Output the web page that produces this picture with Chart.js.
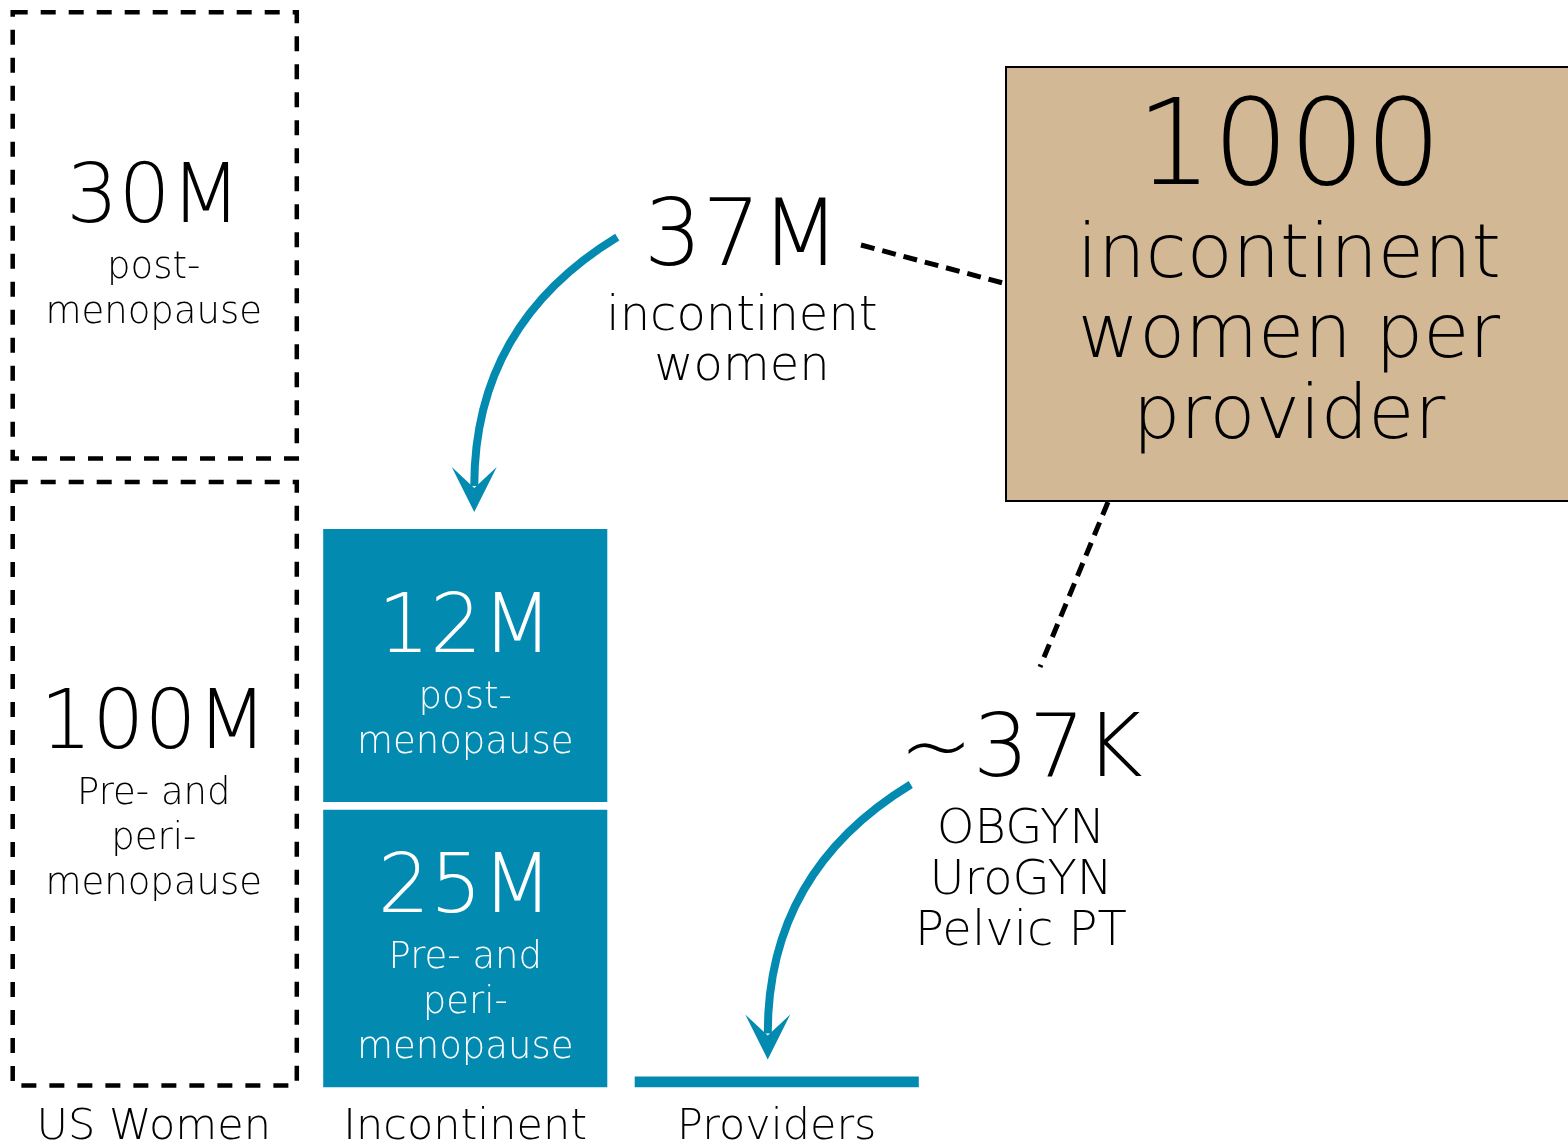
<!DOCTYPE html>
<html><head><meta charset="utf-8">
<script src="https://cdn.jsdelivr.net/npm/chart.js@4.4.1/dist/chart.umd.min.js"></script>
<style>
html,body{margin:0;padding:0;background:#fff;overflow:hidden;}
#wrap{position:relative;width:1568px;height:1144px;overflow:hidden;background:#fff;}
canvas{display:block;position:absolute;left:-2px;top:0;}
</style></head><body>
<div id="wrap"><canvas id="c" width="1570" height="1169"></canvas></div>
<script>
// ---- data ----
const categories = ['US Women', 'Incontinent', 'Providers'];
// figures printed on the blocks
const preLabels = ['100M', '25M', ''];
const postLabels = ['30M', '12M', ''];
const preSubLabels = [['Pre- and', 'peri-', 'menopause'], ['Pre- and', 'peri-', 'menopause'], []];
const postSubLabels = [['post-', 'menopause'], ['post-', 'menopause'], []];
// block heights as drawn in the graphic (illustrative, not to scale; 100 = the 100M block)
const preHeights = [100, 45.7, 1.8];
const gapHeights = [3.2, 1.3, 0];
const postHeights = [74.1, 44.9, 0];
const yMax = 179;
// annotation texts
const incontinentTotal = ['37M', 'incontinent', 'women'];
const ratioText = ['1000', 'incontinent', 'women per', 'provider'];
const providerTotal = ['~37K', 'OBGYN', 'UroGYN', 'Pelvic PT'];

// ---- styles ----
const TEAL = '#028AB0';
const TAN = '#D2B894';
const CLEAR = 'rgba(0,0,0,0)';
const FAM = "'DejaVu Sans', sans-serif";
const W = 200;
const f = (s) => `${W} ${s}px ${FAM}`;
const DX = 2; // canvas is shifted 2px left

function drawLines(ctx, lines, cx, baselines, sizes) {
  lines.forEach((t, k) => { ctx.font = f(sizes[k]); ctx.fillText(t, cx + DX, baselines[k]); });
}

function arrow(ctx, tip) {
  const sx = tip.x + 143, sy = tip.y - 275;
  ctx.save();
  ctx.strokeStyle = TEAL; ctx.fillStyle = TEAL; ctx.lineWidth = 8; ctx.lineCap = 'butt';
  ctx.beginPath();
  ctx.moveTo(sx, sy);
  ctx.quadraticCurveTo(tip.x, tip.y - 188, tip.x, tip.y - 26);
  ctx.stroke();
  ctx.beginPath();
  ctx.moveTo(tip.x, tip.y);
  ctx.lineTo(tip.x - 22.5, tip.y - 45);
  ctx.lineTo(tip.x, tip.y - 24);
  ctx.lineTo(tip.x + 22.5, tip.y - 45);
  ctx.closePath();
  ctx.fill();
  ctx.restore();
}

const annot = {
  id: 'annot',
  afterDatasetsDraw(chart) {
    const ctx = chart.ctx;
    const metaPre = chart.getDatasetMeta(0), metaPost = chart.getDatasetMeta(2);
    // dashed outlines of the US Women blocks
    ctx.save();
    ctx.strokeStyle = '#000'; ctx.lineWidth = 4.5; ctx.setLineDash([15, 13]);
    [metaPre.data[0], metaPost.data[0]].forEach(el => {
      const p = el.getProps(['x', 'y', 'base', 'width'], true);
      const l = p.x - p.width / 2 + 1, r = p.x + p.width / 2 + 1;
      const t = Math.min(p.y, p.base) + 2, b = Math.max(p.y, p.base) - 2;
      ctx.strokeRect(l, t, r - l, b - t);
    });
    ctx.restore();

    // block labels
    ctx.save();
    ctx.textAlign = 'center'; ctx.textBaseline = 'alphabetic';
    const bigSize = 82, cap = 0.729 * bigSize;
    [[metaPre, preLabels, preSubLabels], [metaPost, postLabels, postSubLabels]].forEach(([meta, big, subs]) => {
      meta.data.forEach((el, i) => {
        if (!big[i]) return;
        const p = el.getProps(['x', 'y', 'base'], true);
        const mid = (p.y + p.base) / 2 + 7;
        const n = subs[i].length;
        const blockH = cap + 56 + 45 * (n - 1);
        const top = mid - blockH / 2;
        ctx.fillStyle = i === 0 ? '#000' : '#fff';
        ctx.font = f(bigSize);
        ctx.fillText(big[i], p.x, top + cap);
        ctx.font = f(37);
        subs[i].forEach((t, k) => ctx.fillText(t, p.x, top + cap + 56 + 45 * k));
      });
    });
    ctx.restore();

    // ratio box
    ctx.save();
    ctx.fillStyle = TAN; ctx.strokeStyle = '#000'; ctx.lineWidth = 2;
    ctx.fillRect(1006 + DX, 67, 600, 434);
    ctx.strokeRect(1006 + DX, 67, 600, 434);
    ctx.fillStyle = '#000'; ctx.textAlign = 'center';
    drawLines(ctx, ratioText, 1289, [184, 277, 357, 438], [120, 75, 75, 75]);
    // totals
    drawLines(ctx, incontinentTotal, 742, [265, 330, 380], [92, 48, 48]);
    drawLines(ctx, providerTotal, 1021, [776, 843, 894, 945], [88, 48, 48, 48]);
    // dashed connectors
    ctx.lineWidth = 5; ctx.setLineDash([14, 8]);
    ctx.beginPath(); ctx.moveTo(861 + DX, 245); ctx.lineTo(1003 + DX, 283); ctx.stroke();
    ctx.beginPath(); ctx.moveTo(1108 + DX, 502); ctx.lineTo(1040 + DX, 667); ctx.stroke();
    ctx.restore();

    // arrows to the Incontinent and Providers bars
    const inc = metaPost.data[1].getProps(['x', 'y'], true);
    arrow(ctx, { x: inc.x + 9, y: inc.y - 17 });
    const prov = metaPre.data[2].getProps(['x', 'y'], true);
    arrow(ctx, { x: prov.x - 9, y: prov.y - 17 });
  }
};

new Chart(document.getElementById('c'), {
  type: 'bar',
  data: {
    labels: categories,
    datasets: [
      { label: 'Pre- and peri-menopause', data: preHeights, backgroundColor: [CLEAR, TEAL, TEAL] },
      { label: 'spacer', data: gapHeights, backgroundColor: CLEAR },
      { label: 'Post-menopause', data: postHeights, backgroundColor: [CLEAR, TEAL, TEAL] }
    ]
  },
  options: {
    responsive: false,
    animation: false,
    devicePixelRatio: 1,
    layout: { padding: { left: 0, right: 635.5, top: 0, bottom: 0 } },
    datasets: { bar: { categoryPercentage: 1, barPercentage: 0.912, borderWidth: 0 } },
    plugins: { legend: { display: false }, tooltip: { enabled: false } },
    scales: {
      x: {
        stacked: true,
        grid: { display: false, drawTicks: false },
        border: { display: false },
        ticks: { color: '#000', font: { family: FAM, size: 43, weight: W }, padding: 15, maxRotation: 0, autoSkip: false }
      },
      y: { stacked: true, display: false, min: 0, max: yMax }
    }
  },
  plugins: [annot]
});
</script>
</body></html>
